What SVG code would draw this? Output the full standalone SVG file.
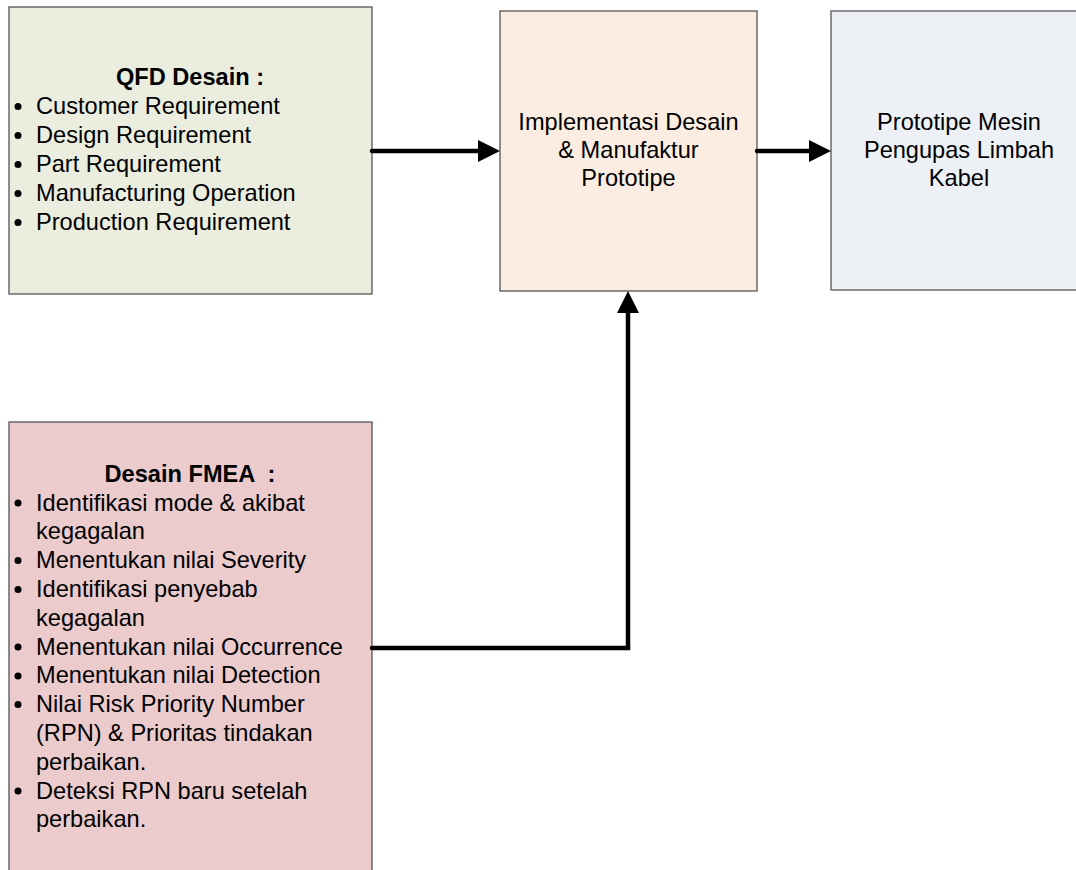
<svg xmlns="http://www.w3.org/2000/svg" width="1076" height="870" viewBox="0 0 1076 870">
  <style>
    .box { stroke: #555555; stroke-width: 1.3; }
    .txt { font-family: "Liberation Sans", Arial, sans-serif; font-size: 23.6px; fill: #000; white-space: pre; }
    .title { font-weight: bold; }
    .mid { text-anchor: middle; }
    .conn { fill: none; stroke: #000; stroke-width: 4.5; stroke-linejoin: miter; stroke-linecap: round; }
    .dot { fill: #000; }
  </style>
  <defs>
    <marker id="arrow" markerUnits="userSpaceOnUse" markerWidth="24" markerHeight="24" refX="0" refY="11" orient="auto">
      <path d="M0,0 L22,11 L0,22 Z" fill="#000"/>
    </marker>
  </defs>
  <rect width="1076" height="870" fill="#fff"/>

  <g id="qfd">
    <rect class="box" x="9" y="7" width="363" height="287" fill="#EBEEDF"/>
    <text class="txt title mid" x="190" y="85">QFD Desain :</text>
    <g class="dot">
      <circle cx="18" cy="106.5" r="3.5"/>
      <circle cx="18" cy="135.5" r="3.5"/>
      <circle cx="18" cy="164.5" r="3.5"/>
      <circle cx="18" cy="193.5" r="3.5"/>
      <circle cx="18" cy="222.5" r="3.5"/>
    </g>
    <text class="txt" x="36" y="114">Customer Requirement</text>
    <text class="txt" x="36" y="143">Design Requirement</text>
    <text class="txt" x="36" y="172">Part Requirement</text>
    <text class="txt" x="36" y="201">Manufacturing Operation</text>
    <text class="txt" x="36" y="230">Production Requirement</text>
  </g>

  <g id="implementasi">
    <rect class="box" x="500" y="11" width="257" height="280" fill="#FCEDE2"/>
    <text class="txt mid" x="628.5" y="130">Implementasi Desain</text>
    <text class="txt mid" x="628.5" y="158">&amp; Manufaktur</text>
    <text class="txt mid" x="628.5" y="186">Prototipe</text>
  </g>

  <g id="prototipe">
    <rect class="box" x="831" y="11" width="257" height="279" fill="#EDF0F5"/>
    <text class="txt mid" x="959" y="130">Prototipe Mesin</text>
    <text class="txt mid" x="959" y="158">Pengupas Limbah</text>
    <text class="txt mid" x="959" y="186">Kabel</text>
  </g>

  <g id="fmea">
    <rect class="box" x="9" y="422" width="363" height="460" fill="#EBCBCB"/>
    <text class="txt title mid" x="190" y="482">Desain FMEA  :</text>
    <g class="dot">
      <circle cx="18" cy="503" r="3.5"/>
      <circle cx="18" cy="560.5" r="3.5"/>
      <circle cx="18" cy="589.5" r="3.5"/>
      <circle cx="18" cy="647" r="3.5"/>
      <circle cx="18" cy="676" r="3.5"/>
      <circle cx="18" cy="704.5" r="3.5"/>
      <circle cx="18" cy="791" r="3.5"/>
    </g>
    <text class="txt" x="36" y="510.5">Identifikasi mode &amp; akibat</text>
    <text class="txt" x="36" y="539.3">kegagalan</text>
    <text class="txt" x="36" y="568.1">Menentukan nilai Severity</text>
    <text class="txt" x="36" y="596.9">Identifikasi penyebab</text>
    <text class="txt" x="36" y="625.7">kegagalan</text>
    <text class="txt" x="36" y="654.5">Menentukan nilai Occurrence</text>
    <text class="txt" x="36" y="683.3">Menentukan nilai Detection</text>
    <text class="txt" x="36" y="712.1">Nilai Risk Priority Number</text>
    <text class="txt" x="36" y="740.9">(RPN) &amp; Prioritas tindakan</text>
    <text class="txt" x="36" y="769.7">perbaikan.</text>
    <text class="txt" x="36" y="798.5">Deteksi RPN baru setelah</text>
    <text class="txt" x="36" y="827.3">perbaikan.</text>
  </g>

  <g id="connectors">
    <path class="conn" d="M372,151 L478,151" marker-end="url(#arrow)"/>
    <path class="conn" d="M757,151 L809,151" marker-end="url(#arrow)"/>
    <path class="conn" d="M372,648 L628,648 L628,313" marker-end="url(#arrow)"/>
  </g>
</svg>
